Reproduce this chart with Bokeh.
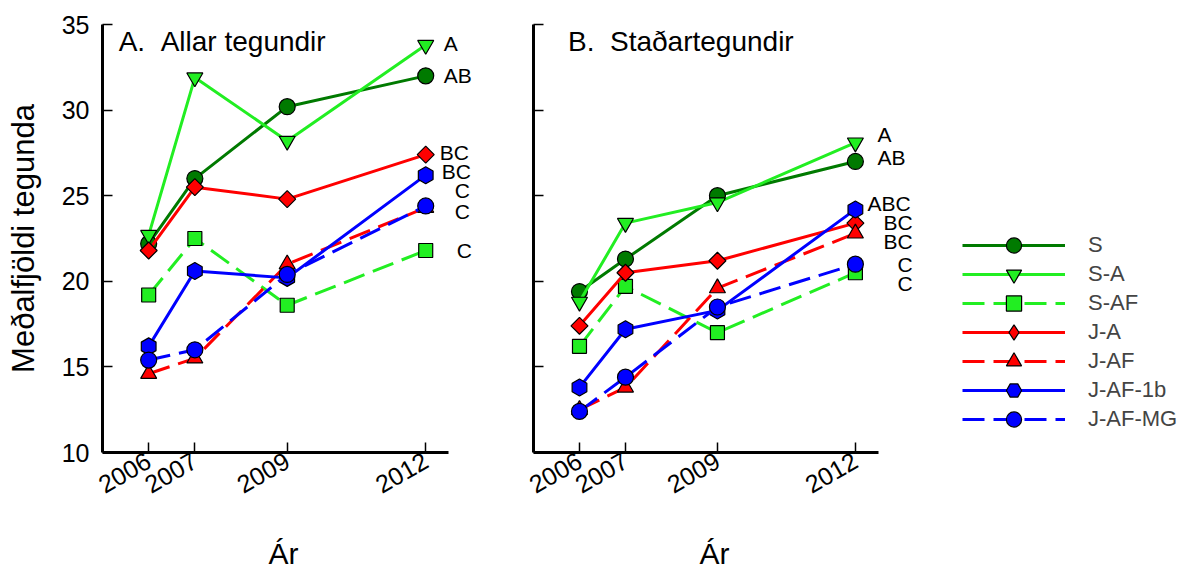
import math
from bokeh.plotting import figure
from bokeh.models import (FixedTicker, Legend, LegendItem, Range1d, Label, LabelSet,
                          ColumnDataSource, Title)
from bokeh.layouts import row
from bokeh.embed import file_html
from bokeh.resources import INLINE
from bokeh.core.properties import value

# ---------------- data ----------------
years = [2006, 2007, 2009, 2012]
series = ["S", "S-A", "S-AF", "J-A", "J-AF", "J-AF-1b", "J-AF-MG"]

# Panel A: Allar tegundir
a_S = [22.2, 26.0, 30.2, 32.0]
a_SA = [22.7, 31.9, 28.2, 33.8]
a_SAF = [19.2, 22.5, 18.6, 21.8]
a_JA = [21.8, 25.5, 24.8, 27.4]
a_JAF = [14.6, 15.5, 21.0, 24.3]
a_JAF1b = [16.2, 20.6, 20.2, 26.2]
a_JAFMG = [15.4, 16.0, 20.4, 24.4]

# Panel B: Staðartegundir
b_S = [19.4, 21.3, 25.0, 27.0]
b_SA = [18.8, 23.4, 24.6, 28.1]
b_SAF = [16.2, 19.7, 17.0, 20.5]
b_JA = [17.4, 20.5, 21.2, 23.4]
b_JAF = [12.5, 13.8, 19.6, 22.8]
b_JAF1b = [13.8, 17.2, 18.3, 24.2]
b_JAFMG = [12.4, 14.4, 18.5, 21.0]

# significance letters next to the 2012 values
a_letters = ["A", "AB", "BC", "BC", "C", "C", "C"]
a_letter_y = [33.9, 32.0, 27.5, 26.4, 25.3, 24.1, 21.8]
b_letters = ["A", "AB", "ABC", "BC", "BC", "C", "C"]
b_letter_y = [28.55, 27.25, 24.55, 23.45, 22.35, 21.0, 19.9]

y_ticks = [10, 15, 20, 25, 30, 35]

# ---------------- styles ----------------
FONT = "Liberation Sans"
NB = "\u00a0"
styles = {
    "S":       dict(color="#007a00", dash="solid", marker="circle", size=16, angle=0.0),
    "S-A":     dict(color="#22ee22", dash="solid", marker="inverted_triangle", size=16, angle=0.0),
    "S-AF":    dict(color="#22ee22", dash="22 9", marker="square", size=14, angle=0.0),
    "J-A":     dict(color="#ff0000", dash="solid", marker="square", size=12, angle=math.pi / 4),
    "J-AF":    dict(color="#ff0000", dash="22 9", marker="triangle", size=16, angle=0.0),
    "J-AF-1b": dict(color="#0000ff", dash="solid", marker="hex", size=17, angle=math.pi / 6),
    "J-AF-MG": dict(color="#0000ff", dash="22 9", marker="circle", size=16, angle=0.0),
}
# legend samples ignore marker angles: use an unrotated diamond for the legend
legend_marker = {"J-A": "diamond"}


def make_panel(width, border_left, border_right, x_end, with_labels):
    p = figure(width=width, height=572, output_backend="svg", toolbar_location=None,
               x_range=Range1d(2005.0, x_end), y_range=Range1d(10, 35),
               min_border_left=border_left, min_border_right=border_right,
               min_border_top=24, min_border_bottom=120,
               background_fill_color="white", border_fill_color="white")
    p.outline_line_color = None
    p.grid.visible = False
    for ax in (p.xaxis[0], p.yaxis[0]):
        ax.axis_line_width = 3
        ax.axis_line_color = "black"
        ax.major_tick_line_width = 1.5
        ax.major_tick_in = 10
        ax.major_tick_out = 0
        ax.minor_tick_line_color = None
        ax.major_label_text_font = FONT
        ax.major_label_text_font_size = "25px"
        ax.major_label_text_color = "black"
        ax.axis_label_text_font = FONT
        ax.axis_label_text_font_style = "normal"
        ax.axis_label_text_color = "black"
    p.xaxis.ticker = FixedTicker(ticks=years)
    p.xaxis.bounds = (2005.0, 2012.5)
    p.xaxis.major_label_orientation = math.pi / 6
    p.xaxis.major_label_standoff = 6
    # spacer, then the x-axis title placed under the bounded axis
    p.add_layout(Title(text=NB, standoff=0, text_font=FONT, text_font_size="23px",
                       text_color="white"), "below")
    p.add_layout(Title(text="Ár", align="left", offset=166, standoff=4,
                       text_font=FONT, text_font_size="30px", text_font_style="normal",
                       text_color="black"), "below")
    p.yaxis.ticker = FixedTicker(ticks=y_ticks)
    if with_labels:
        p.yaxis.axis_label = "Meðalfjöldi tegunda"
        p.yaxis.axis_label_text_font_size = "31px"
        p.yaxis.major_label_standoff = 13
        p.yaxis.axis_label_standoff = 18
    else:
        p.yaxis.major_label_overrides = {t: "" for t in y_ticks}
        p.yaxis.major_label_standoff = 0
    return p


def draw_series(p, values):
    items = []
    for name, vals in zip(series, values):
        st = styles[name]
        src = ColumnDataSource(dict(x=years, y=vals))
        ln = p.line("x", "y", source=src, line_color=st["color"], line_width=3,
                    line_dash=st["dash"])
        leg = None
        if name in legend_marker:
            # drawn underneath the rotated square, used as the legend sample
            leg = p.scatter("x", "y", source=src, marker=legend_marker[name],
                            size=st["size"], fill_color=st["color"], line_color="black",
                            line_width=1.2)
        mk = p.scatter("x", "y", source=src, marker=st["marker"], size=st["size"],
                       angle=st["angle"], fill_color=st["color"], line_color="black",
                       line_width=1.2)
        items.append(LegendItem(label=name, renderers=[ln, leg if leg is not None else mk]))
    return items


def draw_letters(p, letters, ly, offsets):
    src = ColumnDataSource(dict(x=[years[-1]] * len(letters), y=ly, t=letters, dx=offsets))
    p.add_layout(LabelSet(x="x", y="y", text="t", x_offset="dx", source=src,
                          text_align="left", text_baseline="middle",
                          text_font=value(FONT), text_font_size="21px",
                          text_color="black"))


# ---------------- panel A ----------------
pa = make_panel(498, 102, 22, 2013.1, True)
draw_series(pa, [a_S, a_SA, a_SAF, a_JA, a_JAF, a_JAF1b, a_JAFMG])
draw_letters(pa, a_letters, a_letter_y, [18, 18, 14, 16, 29, 29, 31])
pa.add_layout(Label(x=2005.35, y=34.9, text="A." + NB + NB + "Allar tegundir",
                    text_baseline="top", text_font=FONT, text_font_size="28px",
                    text_color="black"))

# ---------------- panel B ----------------
pb = make_panel(684, 35, 2, 2019.07, False)
items = draw_series(pb, [b_S, b_SA, b_SAF, b_JA, b_JAF, b_JAF1b, b_JAFMG])
draw_letters(pb, b_letters, b_letter_y, [22, 22, 12, 28, 28, 42, 42])
pb.add_layout(Label(x=2005.75, y=34.9, text="B." + NB + NB + "Staðartegundir",
                    text_baseline="top", text_font=FONT, text_font_size="28px",
                    text_color="black"))

legend_kw = dict(glyph_width=103, glyph_height=38, label_height=38, spacing=20,
                 padding=0, margin=0, label_standoff=23,
                 label_text_font=FONT, label_text_font_size="22px",
                 border_line_color=None, background_fill_alpha=0)
# two interleaved legends give the tight row pitch with full-size markers
pb.add_layout(Legend(items=items[0::2], location=(429, 14), **legend_kw))
pb.add_layout(Legend(items=items[1::2], location=(429, 43), **legend_kw))

layout = row(pa, pb)
open("out.html", "w").write(file_html(layout, INLINE))
